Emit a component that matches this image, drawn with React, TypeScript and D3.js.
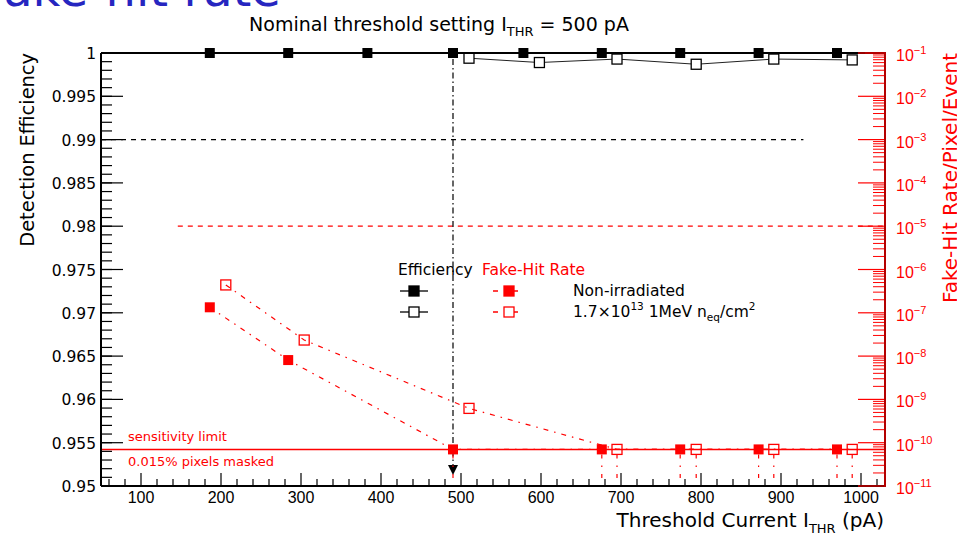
import * as d3 from "d3";
import React from "react";

// threshold current (pA) and detection efficiency
const effNonThr = [186, 284, 383, 490, 578, 676, 774, 872, 970];
const effNon = [1, 1, 1, 1, 1, 1, 1, 1, 1];
const effIrrThr = [510, 598, 695, 794, 891, 989];
const effIrr = [0.9994, 0.9989, 0.9993, 0.9987, 0.9993, 0.9992];

// fake-hit rate per pixel per event
const fhrLimit = 7e-11;
const fhrNonThr = [186, 284, 490, 676, 774, 872, 970];
const fhrNon = [1.34e-7, 8.1e-9, 7e-11, 7e-11, 7e-11, 7e-11, 7e-11];
const fhrIrrThr = [206, 304, 510, 695, 794, 891, 989];
const fhrIrr = [4.4e-7, 2.35e-8, 6.2e-10, 7e-11, 7e-11, 7e-11, 7e-11];

const xTicks = [100, 200, 300, 400, 500, 600, 700, 800, 900, 1000];
const yTicks = [0.95, 0.955, 0.96, 0.965, 0.97, 0.975, 0.98, 0.985, 0.99, 0.995, 1];
const yTickLabels = ["0.95", "0.955", "0.96", "0.965", "0.97", "0.975", "0.98", "0.985", "0.99", "0.995", "1"];
const rExps = [-1, -2, -3, -4, -5, -6, -7, -8, -9, -10, -11];

const W = 957, H = 535;
const L = 101, R = 885, T = 53, B = 486;
const WIDE = "'DejaVu Sans', Verdana, sans-serif";
const NARROW = "'Liberation Sans', Arial, Helvetica, sans-serif";
const RED = "#ff0000";

export default function App() {
  const x = d3.scaleLinear().domain([50, 1030]).range([L, R]);
  const y = d3.scaleLinear().domain([0.95, 1]).range([B, T]);
  const yr = d3.scaleLog().domain([1e-11, 1e-1]).range([B, T]);

  const line = d3.line<[number, number]>().x(d => d[0]).y(d => d[1]);
  const effNonPts = effNonThr.map((t, i) => [x(t), y(effNon[i])] as [number, number]);
  const effIrrPts = effIrrThr.map((t, i) => [x(t), y(effIrr[i])] as [number, number]);
  const fhrNonPts = fhrNonThr.map((t, i) => [x(t), yr(fhrNon[i])] as [number, number]);
  const fhrIrrPts = fhrIrrThr.map((t, i) => [x(t), yr(fhrIrr[i])] as [number, number]);

  const xMinor = d3.range(60, 1030, 20).filter(v => v % 100 !== 0);
  const yMinor = d3.range(0, 51).map(i => 0.95 + i * 0.001);
  const rMinor: number[] = [];
  for (let e = -11; e < -1; e++) for (let k = 2; k <= 9; k++) rMinor.push(k * Math.pow(10, e));

  const ms = 10;
  const limitY = yr(fhrLimit);
  const xArrow = x(490);

  return (
    <svg width={W} height={H} style={{ position: "absolute", left: 0, top: 0 }} fontFamily={WIDE}>
      <rect width={W} height={H} fill="white" />
      <text x={-20} y={6} fontSize={48} fill="#2626c0">Fake-hit rate</text>
      <text x={439} y={31} fontSize={19} textAnchor="middle">
        Nominal threshold setting I<tspan fontSize={13} dy={5}>THR</tspan><tspan dy={-5}> = 500 pA</tspan>
      </text>

      {/* reference lines */}
      <line x1={L} x2={x(928)} y1={y(0.99)} y2={y(0.99)} stroke="black" strokeWidth={1.2} strokeDasharray="5,5" />
      <line x1={x(146)} x2={R} y1={yr(1e-5)} y2={yr(1e-5)} stroke={RED} strokeWidth={1.2} strokeDasharray="5,5" />
      <line x1={L} x2={R} y1={limitY} y2={limitY} stroke={RED} strokeWidth={1.5} />
      <text x={128} y={limitY - 8} fontSize={13} fill={RED}>sensitivity limit</text>
      <text x={128} y={limitY + 17} fontSize={13} fill={RED}>0.015% pixels masked</text>

      {/* nominal threshold marker */}
      <line x1={xArrow} x2={xArrow} y1={T + 6} y2={466} stroke="black" strokeWidth={1.2} strokeDasharray="6,3,1.5,3" />
      <path d={`M${xArrow - 5},465L${xArrow + 5},465L${xArrow},475Z`} fill="black" />

      {/* upper-limit drop lines */}
      {[...fhrNonPts, ...fhrIrrPts].filter(p => Math.abs(p[1] - limitY) < 0.5).map((p, i) => (
        <line key={"dl" + i} x1={p[0]} x2={p[0]} y1={p[1] + ms / 2} y2={B} stroke={RED} strokeWidth={1.2} strokeDasharray="4,7,1.5,7" />
      ))}

      {/* series lines */}
      <path d={line(effNonPts) || ""} fill="none" stroke="black" strokeWidth={2} />
      <path d={line(effIrrPts) || ""} fill="none" stroke="#222" strokeWidth={1} />
      <path d={line(fhrNonPts) || ""} fill="none" stroke={RED} strokeWidth={1.2} strokeDasharray="5,6,1.5,6" />
      <path d={line(fhrIrrPts) || ""} fill="none" stroke={RED} strokeWidth={1.2} strokeDasharray="5,6,1.5,6" />

      {/* markers */}
      {effNonPts.map((p, i) => <rect key={"en" + i} x={p[0] - ms / 2} y={p[1] - ms / 2} width={ms} height={ms} fill="black" />)}
      {effIrrPts.map((p, i) => <rect key={"ei" + i} x={p[0] - ms / 2} y={p[1] - ms / 2} width={ms} height={ms} fill="white" stroke="black" strokeWidth={1.3} />)}
      {fhrNonPts.map((p, i) => <rect key={"fn" + i} x={p[0] - ms / 2} y={p[1] - ms / 2} width={ms} height={ms} fill={RED} />)}
      {fhrIrrPts.map((p, i) => <rect key={"fi" + i} x={p[0] - ms / 2} y={p[1] - ms / 2} width={ms} height={ms} fill="white" fillOpacity={0} stroke={RED} strokeWidth={1.3} />)}

      {/* legend */}
      <text x={398} y={275} fontSize={15.5}>Efficiency</text>
      <text x={482} y={275} fontSize={15.5} fill={RED}>Fake-Hit Rate</text>
      {[291, 312].map((ly, i) => (
        <g key={"lg" + i}>
          <line x1={400} x2={428} y1={ly} y2={ly} stroke="black" strokeWidth={1.3} />
          <rect x={414 - ms / 2} y={ly - ms / 2} width={ms} height={ms} fill={i === 0 ? "black" : "white"} stroke="black" strokeWidth={1.3} />
          <line x1={493} x2={518} y1={ly} y2={ly} stroke={RED} strokeWidth={1.3} strokeDasharray="5,6,14" />
          <rect x={509 - ms / 2} y={ly - ms / 2} width={ms} height={ms} fill={i === 0 ? RED : "white"} stroke={RED} strokeWidth={1.3} />
        </g>
      ))}
      <text x={573} y={296} fontSize={15.5}>Non-irradiated</text>
      <text x={573} y={317} fontSize={15.5}>
        1.7×10<tspan fontSize={10.5} dy={-7}>13</tspan><tspan dy={7}> 1MeV n</tspan><tspan fontSize={10.5} dy={4}>eq</tspan><tspan dy={-4}>/cm</tspan><tspan fontSize={10.5} dy={-7}>2</tspan>
      </text>

      {/* left axis */}
      <line x1={L} x2={L} y1={T} y2={B} stroke="black" strokeWidth={2} />
      <line x1={L} x2={R} y1={T} y2={T} stroke="black" strokeWidth={2} />
      {yMinor.map((v, i) => <line key={"ym" + i} x1={L} x2={L + 11} y1={y(v)} y2={y(v)} stroke="black" strokeWidth={1.2} />)}
      {yTicks.map((v, i) => (
        <g key={"yt" + i}>
          <line x1={L} x2={L + 22} y1={y(v)} y2={y(v)} stroke="black" strokeWidth={1.2} />
          <text x={L - 5} y={y(v) + 6} fontSize={15.5} textAnchor="end">{yTickLabels[i]}</text>
        </g>
      ))}
      <text transform={`translate(34,${T}) rotate(-90)`} fontSize={19.4} textAnchor="end">Detection Efficiency</text>

      {/* bottom axis */}
      <line x1={L} x2={R} y1={B} y2={B} stroke="black" strokeWidth={2} />
      {xMinor.map((v, i) => <line key={"xm" + i} x1={x(v)} x2={x(v)} y1={B} y2={B - 7} stroke="black" strokeWidth={1.2} />)}
      {xTicks.map((v, i) => (
        <g key={"xt" + i}>
          <line x1={x(v)} x2={x(v)} y1={B} y2={B - 13} stroke="black" strokeWidth={1.2} />
          <text x={x(v)} y={503} fontSize={16} fontFamily={NARROW} textAnchor="middle">{v}</text>
        </g>
      ))}
      <text x={R - 1} y={527} fontSize={20} textAnchor="end">
        Threshold Current I<tspan fontSize={13} dy={6}>THR</tspan><tspan dy={-6}> (pA)</tspan>
      </text>

      {/* right axis */}
      {rMinor.map((v, i) => <line key={"rm" + i} x1={R - 12} x2={R} y1={yr(v)} y2={yr(v)} stroke={RED} strokeWidth={1} />)}
      {rExps.map((e, i) => (
        <g key={"rt" + i}>
          <line x1={R - 27} x2={R} y1={yr(Math.pow(10, e))} y2={yr(Math.pow(10, e))} stroke={RED} strokeWidth={1.2} />
          <text x={896} y={yr(Math.pow(10, e)) + 8} fontSize={16} fontFamily={NARROW} fill={RED}>
            10<tspan fontSize={11} dy={-7}>{"\u2212" + (-e)}</tspan>
          </text>
        </g>
      ))}
      <line x1={R} x2={R} y1={T - 1} y2={B + 1} stroke="#b40000" strokeWidth={2} />
      <line x1={R - 20} x2={R} y1={T} y2={T} stroke="#b40000" strokeWidth={2} />
      <text transform={`translate(957,${T}) rotate(-90)`} fontSize={20} textAnchor="end" fill={RED}>Fake-Hit Rate/Pixel/Event</text>
    </svg>
  );
}
